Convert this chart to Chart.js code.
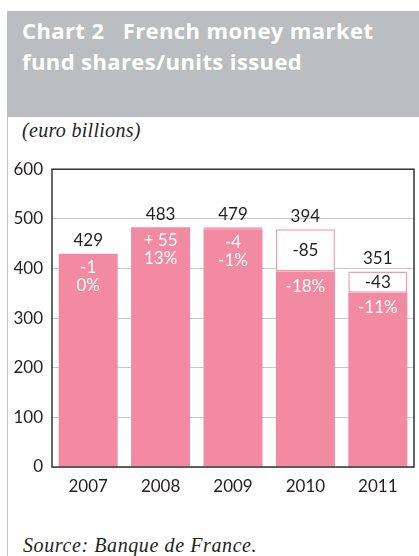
<!DOCTYPE html>
<html>
<head>
<meta charset="utf-8">
<script src="https://cdn.jsdelivr.net/npm/chart.js@4"></script>
<style>
  html, body { margin:0; padding:0; background:#fff; }
  body { width:419px; height:556px; position:relative; overflow:hidden; }
  #leftline { position:absolute; left:7px; top:117px; width:1px; height:439px; background:#c4c4c4; }
  #header { position:absolute; left:7px; top:11px; width:412px; height:106px; background:#bcbdc0; }
  #title { position:absolute; left:22px; top:15px; color:#fff; font-family:"Open Sans", sans-serif; font-weight:bold; font-size:22px; line-height:31px; letter-spacing:0.4px; white-space:nowrap; }
  #unit { position:absolute; left:22px; top:119px; font-family:"Liberation Serif", serif; font-style:italic; font-size:20px; color:#231f20; letter-spacing:0.3px; }
  #source { position:absolute; left:23px; top:534px; font-family:"Liberation Serif", serif; font-style:italic; font-size:20px; color:#231f20; letter-spacing:0.6px; }
  #wrap { position:absolute; left:0; top:150px; width:419px; height:350px; }
</style>
</head>
<body>
<div id="leftline"></div>
<div id="header"></div>
<div id="title">Chart 2&nbsp;&nbsp;&nbsp;French money market<br>fund shares/units issued</div>
<div id="unit">(euro billions)</div>
<div id="wrap"><canvas id="c"></canvas></div>
<div id="source">Source: Banque de France.</div>
<script>
const years = ['2007', '2008', '2009', '2010', '2011'];
const outstanding = [429, 483, 479, 394, 351];
const decline = [1, 0, 4, 85, 43];
const changeLabels = ['-1', '+ 55', '-4', '-85', '-43'];
const pctLabels = ['0%', '13%', '-1%', '-18%', '-11%'];
const yTicks = [0, 100, 200, 300, 400, 500, 600];

const PINK = '#f28ba2';
const TXT = '#231f20';

const labelPlugin = {
  id: 'labels',
  afterDatasetsDraw(chart) {
    const ctx = chart.ctx;
    const a = chart.chartArea;
    const y = chart.scales.y;
    const m0 = chart.getDatasetMeta(0);
    ctx.save();
    ctx.strokeStyle = '#333';
    ctx.lineWidth = 1.5;
    ctx.strokeRect(a.left, a.top, a.right - a.left, a.bottom - a.top);
    ctx.textAlign = 'center';
    ctx.textBaseline = 'middle';
    ctx.font = '17px Lato, sans-serif';
    for (let i = 0; i < years.length; i++) {
      const x = m0.data[i].x;
      const topVal = outstanding[i] + decline[i];
      const stackTop = y.getPixelForValue(topVal);
      const barTop = y.getPixelForValue(outstanding[i]);
      ctx.fillStyle = TXT;
      ctx.fillText(String(outstanding[i]), x, stackTop - 13);
      if (decline[i] > 20) {
        ctx.fillStyle = TXT;
        ctx.fillText(changeLabels[i], x, (stackTop + barTop) / 2);
        ctx.fillStyle = '#fff';
        ctx.fillText(pctLabels[i], x, barTop + 15);
      } else {
        ctx.fillStyle = '#fff';
        ctx.fillText(changeLabels[i], x, barTop + 13);
        ctx.fillText(pctLabels[i], x, barTop + 31);
      }
    }
    ctx.restore();
  }
};

new Chart(document.getElementById('c'), {
  type: 'bar',
  data: {
    labels: years,
    datasets: [
      { data: outstanding, backgroundColor: PINK, borderWidth: 0, stack: 's' },
      { data: decline, backgroundColor: '#fff', borderColor: '#f59ab0', borderWidth: 1.5, stack: 's', borderSkipped: false }
    ]
  },
  options: {
    responsive: true,
    maintainAspectRatio: false,
    animation: false,
    devicePixelRatio: 1,
    layout: { padding: { top: 15, right: 5, left: 0, bottom: 0 } },
    datasets: { bar: { categoryPercentage: 1, barPercentage: 0.815 } },
    plugins: { legend: { display: false }, tooltip: { enabled: false }, title: { display: false } },
    scales: {
      x: {
        stacked: true,
        grid: { display: false, drawTicks: false },
        border: { display: false },
        ticks: { color: TXT, font: { family: 'Lato, sans-serif', size: 17 }, padding: 9 },
        afterFit(s) { s.height = 33; }
      },
      y: {
        stacked: true,
        min: 0, max: 600,
        afterBuildTicks(s) { s.ticks = yTicks.map(v => ({ value: v })); },
        grid: { color: '#c8c8c8', lineWidth: 1, drawTicks: false },
        border: { display: false },
        ticks: { color: TXT, font: { family: 'Lato, sans-serif', size: 17 }, padding: 9 },
        afterFit(s) { s.width = 52; }
      }
    }
  },
  plugins: [labelPlugin]
});
</script>
</body>
</html>
